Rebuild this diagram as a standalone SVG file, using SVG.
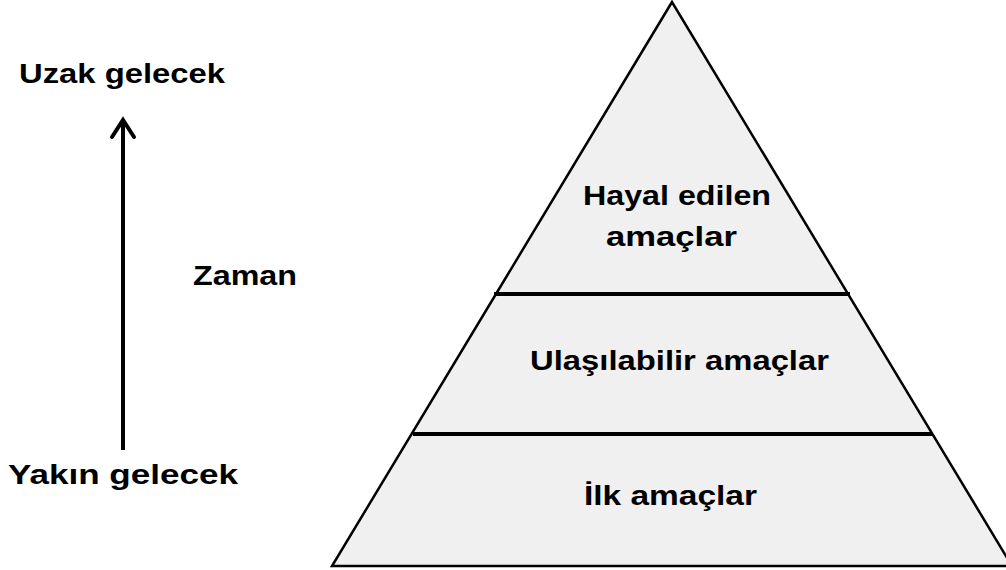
<svg xmlns="http://www.w3.org/2000/svg" width="1006" height="570" viewBox="0 0 1006 570">
<style>
.t{font-family:"Liberation Sans",Arial,sans-serif;font-weight:bold;font-size:28px;fill:#000}
.ln{stroke:#000;stroke-width:4;fill:none}
</style>
<rect width="1006" height="570" fill="#fff"/>
<g id="pyramid">
<polygon points="672,2 332,566 1012,566" fill="#f0f0f0" stroke="#000" stroke-width="2.5"/>
</g>
<g id="dividers">
<line class="ln" x1="494" y1="294" x2="850" y2="294"/>
<line class="ln" x1="413" y1="434" x2="932" y2="434"/>
</g>
<g id="connectors">
<line class="ln" x1="123" y1="450" x2="123" y2="122"/>
<polyline class="ln" points="112,137 123,120 134,137" stroke-width="4.5" stroke-linecap="round" stroke-linejoin="miter"/>
</g>
<g id="node-uzak"><text class="t" x="19" y="83" textLength="206" lengthAdjust="spacingAndGlyphs">Uzak gelecek</text></g>
<g id="node-yakin"><text class="t" x="8" y="484" textLength="230" lengthAdjust="spacingAndGlyphs">Yakın gelecek</text></g>
<g id="node-zaman"><text class="t" x="193" y="285" textLength="104" lengthAdjust="spacingAndGlyphs">Zaman</text></g>
<g id="node-hayal">
<text class="t" x="583" y="205" textLength="188" lengthAdjust="spacingAndGlyphs">Hayal edilen</text>
<text class="t" x="606" y="246" textLength="131" lengthAdjust="spacingAndGlyphs">amaçlar</text>
</g>
<g id="node-ulasilabilir"><text class="t" x="530" y="370" textLength="299" lengthAdjust="spacingAndGlyphs">Ulaşılabilir amaçlar</text></g>
<g id="node-ilk"><text class="t" x="584" y="505" textLength="173" lengthAdjust="spacingAndGlyphs">İlk amaçlar</text></g>
</svg>
